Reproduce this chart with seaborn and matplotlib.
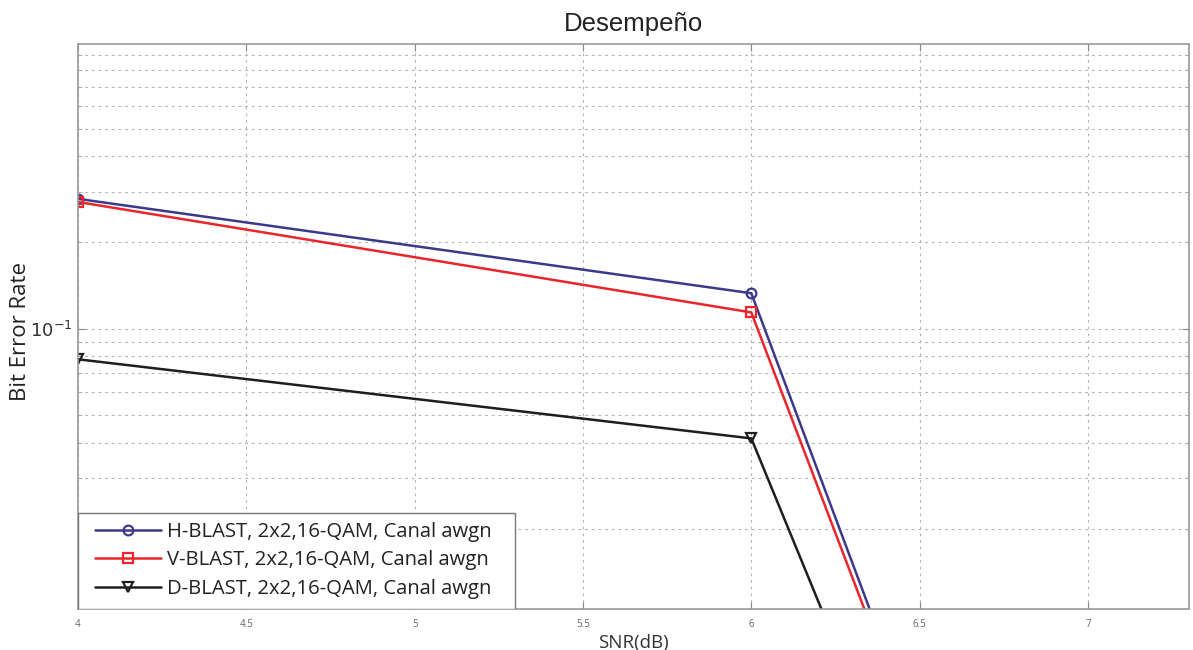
import matplotlib
matplotlib.use("Agg")
import matplotlib.pyplot as plt
from matplotlib.patches import Rectangle
from matplotlib.ticker import FixedLocator, NullFormatter, FixedFormatter
import numpy as np
import pandas as pd
import seaborn as sns

# SNR points (dB) and measured bit error rates
snr = [4, 6, 7]
ber_h = [0.284, 0.133, 9.7e-5]
ber_v = [0.277, 0.114, 9.4e-5]
ber_d = [0.0782, 0.0414, 5.7e-5]

series_names = [
    "H-BLAST, 2x2,16-QAM, Canal awgn",
    "V-BLAST, 2x2,16-QAM, Canal awgn",
    "D-BLAST, 2x2,16-QAM, Canal awgn",
]
series_values = [ber_h, ber_v, ber_d]
series_colors = ["#3a3a8a", "#e8262b", "#1e1e1e"]
series_markers = ["o", "s", "v"]

x_ticks = [4, 4.5, 5, 5.5, 6, 6.5, 7]
x_tick_labels = ["4", "4.5", "5", "5.5", "6", "6.5", "7"]

sns.set_style("white")
plt.rcParams["font.family"] = ["Open Sans", "DejaVu Sans"]

fig = plt.figure(figsize=(11.93, 6.5), dpi=100)
ax = fig.add_axes([0.0654, 0.063, 0.9312, 0.870])

for name, vals, col, mk in zip(series_names, series_values, series_colors, series_markers):
    df = pd.DataFrame({"SNR": snr, "BER": vals})
    sns.lineplot(data=df, x="SNR", y="BER", ax=ax, color=col, marker=mk,
                 markersize=7, markerfacecolor="none", markeredgecolor=col,
                 markeredgewidth=1.6, linewidth=1.8, label=name)

ax.set_yscale("log")
ax.set_xlim(4, 7.3)
ax.set_ylim(0.0105, 0.99)

# x ticks
ax.xaxis.set_major_locator(FixedLocator(x_ticks))
ax.xaxis.set_major_formatter(FixedFormatter(x_tick_labels))

# y ticks: only the decade labelled, intermediate values as minor gridlines
ax.yaxis.set_major_locator(FixedLocator([0.1]))
ax.yaxis.set_major_formatter(FixedFormatter([r"$10^{-1}$"]))
minor_vals = [k * 0.01 for k in range(2, 10)] + [k * 0.1 for k in range(2, 10)]
ax.yaxis.set_minor_locator(FixedLocator(minor_vals))
ax.yaxis.set_minor_formatter(NullFormatter())

grid_kw = dict(color="#b4b4b4", linestyle=(0, (2.5, 3.5)), linewidth=0.8)
ax.grid(True, which="major", axis="both", **grid_kw)
ax.grid(True, which="minor", axis="y", **grid_kw)

ax.tick_params(axis="x", which="major", direction="in", length=5, width=0.8,
               colors="#888888", labelcolor="#666666", labelsize=7, pad=7,
               top=True, bottom=True)
ax.tick_params(axis="y", which="major", direction="in", length=5, width=0.8,
               colors="#888888", labelcolor="#333333", labelsize=13, pad=4,
               left=True, right=True)
ax.tick_params(axis="y", which="minor", direction="in", length=3, width=0.6,
               colors="#aaaaaa", left=True, right=True)

for sp in ax.spines.values():
    sp.set_color("#999999")
    sp.set_linewidth(1.2)

ax.set_title("Desempeño", fontsize=18.5, family=["Liberation Sans", "DejaVu Sans"],
             color="#222222", pad=9)
ax.set_xlabel("SNR(dB)", fontsize=13.5, color="#333333", labelpad=3)
ax.set_ylabel("Bit Error Rate", fontsize=16, color="#222222")
ax.yaxis.set_label_coords(-0.042, 0.49)

# legend entries without frame; the box is drawn separately
leg = ax.legend(loc="lower left", bbox_to_anchor=(0.0150, 0.018), fontsize=14.6,
                frameon=False, handlelength=3.25, handletextpad=0.3,
                borderpad=0.0, labelspacing=0.42, borderaxespad=0.0)
for t in leg.get_texts():
    t.set_color("#222222")
ax.add_patch(Rectangle((0.0, 0.0), 0.393, 0.170, transform=ax.transAxes,
                       facecolor="white", edgecolor="#777777", linewidth=1.0,
                       zorder=4.5))
leg.set_zorder(5)

fig.savefig("out.png", dpi=100, facecolor="white")
